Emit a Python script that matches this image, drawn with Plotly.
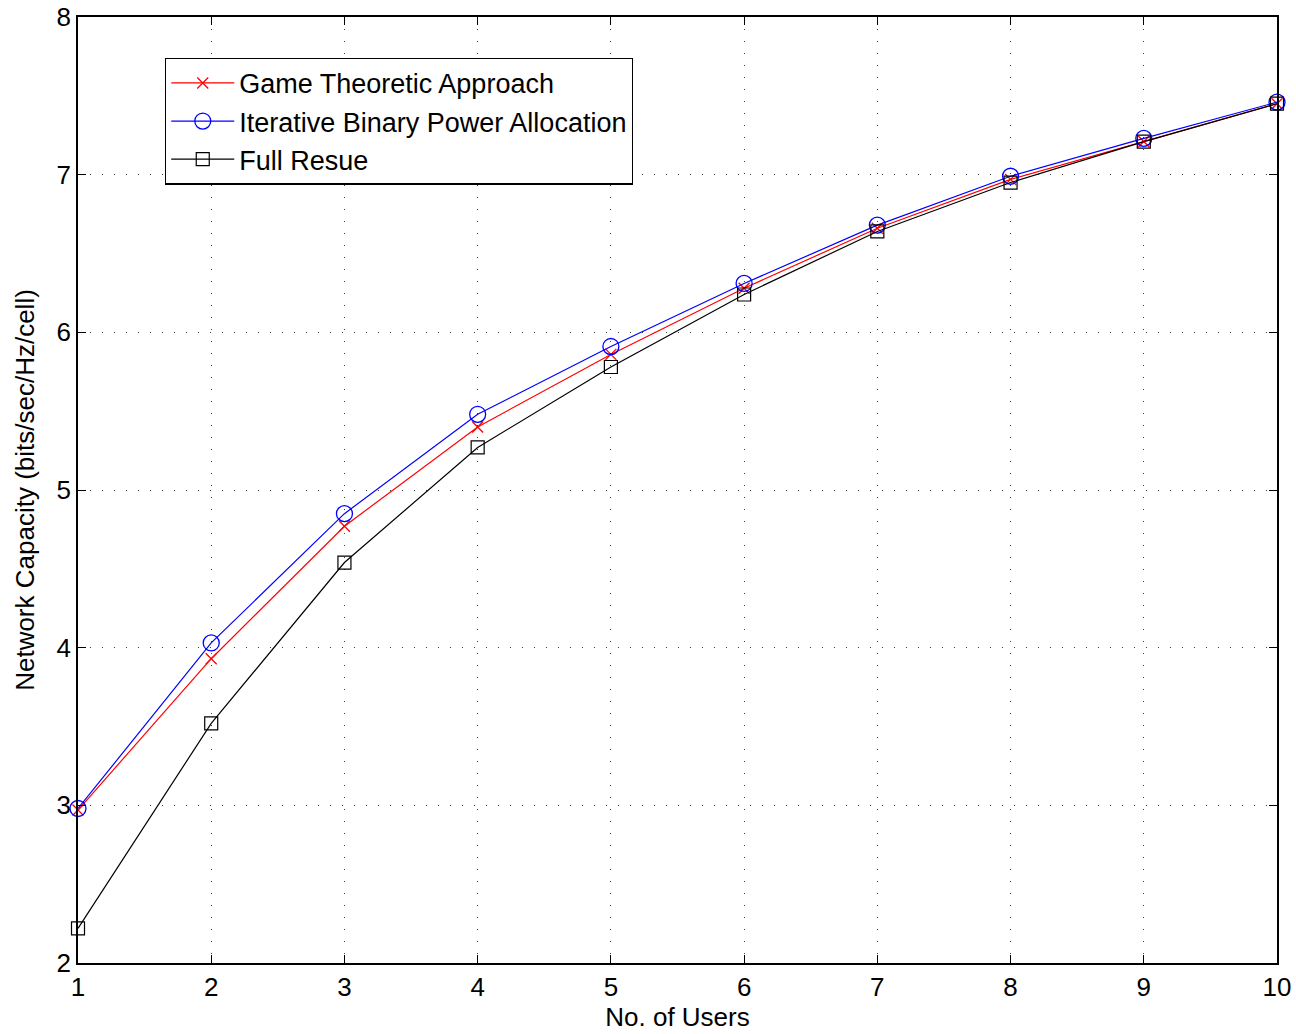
import plotly.graph_objects as go

users = [1, 2, 3, 4, 5, 6, 7, 8, 9, 10]
game_theoretic = [2.97, 3.93, 4.77, 5.40, 5.86, 6.28, 6.66, 6.97, 7.21, 7.45]
iterative_binary = [2.98, 4.03, 4.85, 5.48, 5.91, 6.31, 6.68, 6.99, 7.23, 7.46]
full_reuse = [2.22, 3.52, 4.54, 5.27, 5.78, 6.24, 6.64, 6.95, 7.21, 7.45]

FONT = "Liberation Sans, Arial"

fig = go.Figure()
fig.add_trace(go.Scatter(x=users, y=game_theoretic, mode="lines+markers",
                         name="Game Theoretic Approach",
                         line=dict(color="#FF0000", width=1.2),
                         marker=dict(symbol="x-thin", size=11, color="#FF0000",
                                     line=dict(color="#FF0000", width=1.3)),
                         cliponaxis=False))
fig.add_trace(go.Scatter(x=users, y=iterative_binary, mode="lines+markers",
                         name="Iterative Binary Power Allocation",
                         line=dict(color="#0000FF", width=1.2),
                         marker=dict(symbol="circle-open", size=16, color="#0000FF",
                                     line=dict(color="#0000FF", width=1.3)),
                         cliponaxis=False))
fig.add_trace(go.Scatter(x=users, y=full_reuse, mode="lines+markers",
                         name="Full Resue",
                         line=dict(color="#000000", width=1.2),
                         marker=dict(symbol="square-open", size=13, color="#000000",
                                     line=dict(color="#000000", width=1.2)),
                         cliponaxis=False))

axis_common = dict(showline=True, linecolor="black", linewidth=1.5, mirror="ticks",
                   ticks="inside", ticklen=8, tickwidth=1, tickcolor="black",
                   showgrid=True, gridcolor="rgba(0,0,0,0.75)", gridwidth=1,
                   griddash="1px,11px", zeroline=False, automargin=False,
                   tickfont=dict(family=FONT, size=26, color="black"))

fig.update_xaxes(range=[1, 10], dtick=1, tick0=1,
                 title=dict(text="No. of Users", font=dict(family=FONT, size=26, color="black"),
                            standoff=4),
                 **axis_common)
fig.update_yaxes(range=[2, 8], dtick=1, tick0=2,
                 title=dict(text="Network Capacity (bits/sec/Hz/cell)",
                            font=dict(family=FONT, size=26, color="black"),
                            standoff=14),
                 **axis_common)

fig.update_layout(
    width=1296, height=1034,
    margin=dict(l=78, r=19, t=17, b=71),
    paper_bgcolor="white", plot_bgcolor="white",
    font=dict(family=FONT, size=26, color="black"),
    legend=dict(x=0.0726, y=0.957, xanchor="left", yanchor="top",
                bgcolor="white", bordercolor="black", borderwidth=1.2,
                font=dict(size=27, color="black"), tracegroupgap=0,
                itemwidth=63),
    showlegend=True,
)

fig.write_html("out.html")
